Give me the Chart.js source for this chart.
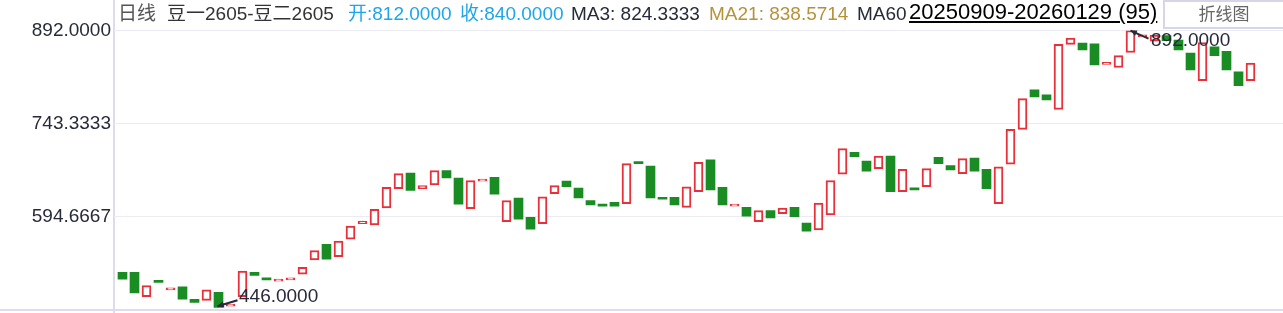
<!DOCTYPE html>
<html>
<head>
<meta charset="utf-8">
<title>豆一2605-豆二2605 日线</title>
<script src="https://cdn.jsdelivr.net/npm/chart.js@4.4.1/dist/chart.umd.min.js"></script>
<style>
    body { margin: 0; background: #ffffff; }
    #wrap {
        position: relative;
        width: 1283px;
        height: 313px;
        overflow: hidden;
        font-family: "Liberation Sans", Arial, "Noto Sans CJK SC", sans-serif;
    }
    #wrap canvas { position: absolute; left: 0; top: 0; }
    .hd {
        position: absolute;
        top: 4px;
        font-size: 19px;
        line-height: 19px;
        white-space: nowrap;
    }
    .date {
        top: 1px;
        font-size: 22px;
        line-height: 22px;
        color: #000000;
        text-decoration: underline;
        text-decoration-thickness: 2px;
        text-underline-offset: 2px;
    }
    .btn {
        position: absolute;
        left: 1163px;
        top: 0px;
        width: 118px;
        height: 25px;
        border: 2px solid #d6d6e6;
        background: #ffffff;
        color: #666666;
        font-size: 17px;
        line-height: 25px;
        text-align: center;
    }
</style>
</head>
<body>
<div id="wrap">
    <canvas id="chartCandles" width="1283" height="313"></canvas>
    <span class="hd" style="left:118px;color:#555555">日线</span>
    <span class="hd" style="left:167px;color:#333333">豆一2605-豆二2605</span>
    <span class="hd" style="left:348px;color:#1ea5ec">开:812.0000</span>
    <span class="hd" style="left:460px;color:#1ea5ec">收:840.0000</span>
    <span class="hd" style="left:571px;color:#262a3a">MA3: 824.3333</span>
    <span class="hd" style="left:709px;color:#b5923a">MA21: 838.5714</span>
    <span class="hd" style="left:857px;color:#262a3a">MA60</span>
    <span class="hd date" style="left:909px">20250909-20260129 (95)</span>
    <div class="btn">折线图</div>
</div>
<script>
// Daily open / close of the spread (95 sessions, 20250909 - 20260129)
const openPrices = [
    505, 505, 466, 492, 477, 482, 462, 460, 473, 451,
    466, 505, 494, 491, 493, 502, 525, 550, 530, 558,
    583, 581, 608, 639, 664, 639, 645, 668, 656, 607,
    651, 657, 586, 624, 593, 583, 631, 651, 640, 620,
    612, 617, 615, 680, 675, 625, 625, 609, 634, 685,
    641, 611, 609, 586, 604, 599, 609, 584, 573, 597,
    662, 697, 683, 671, 691, 634, 638, 642, 689, 676,
    663, 688, 670, 615, 678, 734, 797, 789, 766, 870,
    872, 871, 838, 833, 857, 882, 875, 884, 877, 856,
    812, 866, 859, 826, 812
];
const closePrices = [
    494, 472, 484, 489, 478, 462, 457, 477, 449, 453,
    507, 500, 493, 494, 494, 513, 540, 526, 555, 579,
    587, 606, 641, 663, 636, 644, 668, 656, 614, 652,
    652, 630, 620, 590, 574, 626, 644, 642, 624, 613,
    611, 611, 679, 679, 624, 622, 613, 642, 681, 637,
    613, 612, 595, 604, 592, 608, 594, 571, 616, 652,
    703, 690, 667, 691, 634, 670, 637, 671, 679, 669,
    687, 667, 639, 674, 734, 783, 786, 781, 870, 880,
    861, 837, 840, 852, 892, 883, 885, 876, 861, 829,
    873, 852, 829, 804, 840
];
// Y axis: low, two thirds, high
const yTickValues = [446, 594.6667, 743.3333, 892];

const upColor = '#e8303a';
const downColor = '#1a8c24';
const textColor = '#262a3a';
const isUp = (i) => closePrices[i] >= openPrices[i];

const candleData = openPrices.map((o, i) => ({ x: i, y: [o, closePrices[i]] }));

/* frame lines: left axis and bottom line */
const framePlugin = {
    id: 'frame_lines',
    beforeDraw: (chart) => {
        const ctx = chart.ctx;
        ctx.save();
        ctx.fillStyle = '#dcdcea';
        ctx.fillRect(113, 0, 2, chart.height);
        ctx.fillRect(0, 309, chart.width, 2);
        ctx.restore();
    }
};

/* high / low marks with an arrow */
function drawArrow(ctx, x1, y1, x2, y2) {
    ctx.beginPath();
    ctx.moveTo(x1, y1);
    ctx.lineTo(x2, y2);
    ctx.stroke();
    const ang = Math.atan2(y2 - y1, x2 - x1);
    ctx.beginPath();
    ctx.moveTo(x2, y2);
    ctx.lineTo(x2 - 7 * Math.cos(ang - 0.45), y2 - 7 * Math.sin(ang - 0.45));
    ctx.lineTo(x2 - 7 * Math.cos(ang + 0.45), y2 - 7 * Math.sin(ang + 0.45));
    ctx.closePath();
    ctx.fill();
}

const markPlugin = {
    id: 'mark_extremes',
    afterDatasetsDraw: (chart) => {
        const ctx = chart.ctx;
        const xs = chart.scales.x;
        const ys = chart.scales.y;
        let lowIdx = 0, highIdx = 0;
        for (let i = 0; i < openPrices.length; i++) {
            if (Math.min(openPrices[i], closePrices[i]) < Math.min(openPrices[lowIdx], closePrices[lowIdx])) lowIdx = i;
            if (Math.max(openPrices[i], closePrices[i]) > Math.max(openPrices[highIdx], closePrices[highIdx])) highIdx = i;
        }
        ctx.save();
        ctx.strokeStyle = textColor;
        ctx.fillStyle = textColor;
        ctx.lineWidth = 2;
        ctx.font = '19px "Liberation Sans", Arial, sans-serif';
        ctx.textBaseline = 'middle';
        ctx.textAlign = 'left';

        // low
        let px = xs.getPixelForValue(lowIdx);
        let py = ys.getPixelForValue(Math.min(openPrices[lowIdx], closePrices[lowIdx]));
        drawArrow(ctx, px + 19, py - 7, px - 1, py - 1);
        ctx.fillText(yTickValues[0].toFixed(4), px + 20.5, py - 11);

        // high
        px = xs.getPixelForValue(highIdx);
        py = ys.getPixelForValue(Math.max(openPrices[highIdx], closePrices[highIdx]));
        drawArrow(ctx, px + 18, py + 8, px, py);
        ctx.fillText(yTickValues[yTickValues.length - 1].toFixed(4), px + 20.5, py + 10);
        ctx.restore();
    }
};

const configCandles = {
    type: 'bar',
    data: {
        datasets: [{
            label: '豆一2605-豆二2605',
            data: candleData,
            backgroundColor: (c) => isUp(c.dataIndex) ? '#ffffff' : downColor,
            borderColor: (c) => isUp(c.dataIndex) ? upColor : downColor,
            borderWidth: (c) => isUp(c.dataIndex) ? 2 : 0,
            borderSkipped: false,
            barThickness: 9,
            minBarLength: 2
        }]
    },
    options: {
        responsive: false,
        animation: false,
        devicePixelRatio: 1,
        layout: {
            padding: { top: 30.6, bottom: 3.8, left: 0, right: 0 }
        },
        plugins: {
            legend: { display: false },
            tooltip: { enabled: false }
        },
        scales: {
            x: {
                type: 'linear',
                display: false,
                offset: false,
                bounds: 'data',
                min: -0.7083,
                max: 96.708
            },
            y: {
                position: 'left',
                min: yTickValues[0],
                max: yTickValues[yTickValues.length - 1],
                afterBuildTicks: (scale) => {
                    scale.ticks = yTickValues.map(v => ({ value: v }));
                },
                afterFit: (scale) => {
                    scale.width = 114;
                    scale.paddingTop = 0;
                    scale.paddingBottom = 0;
                },
                border: { display: false },
                grid: {
                    drawTicks: false,
                    color: (c) => (c.tick && c.tick.value === yTickValues[0]) ? 'rgba(0,0,0,0)' : '#ebebf3',
                    lineWidth: 1
                },
                ticks: {
                    padding: 3,
                    color: textColor,
                    font: { family: '"Liberation Sans", Arial, sans-serif', size: 19 },
                    callback: (v) => v === yTickValues[0] ? '' : v.toFixed(4)
                }
            }
        }
    },
    plugins: [framePlugin, markPlugin]
};

let chartCandles = new Chart(
    document.getElementById('chartCandles'),
    configCandles
);
</script>
</body>
</html>
